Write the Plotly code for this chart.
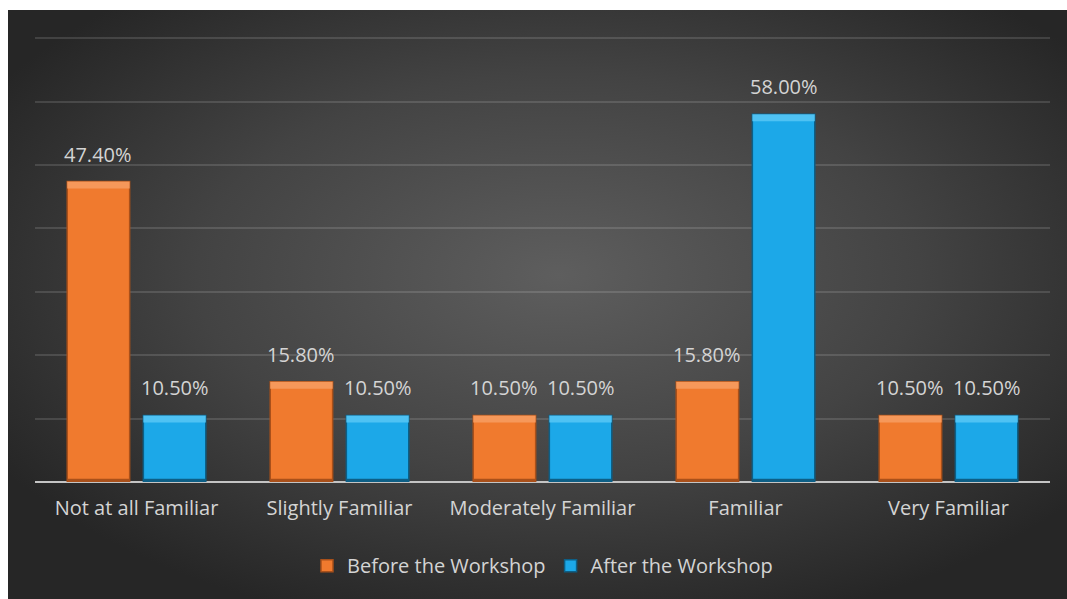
import base64
import plotly.graph_objects as go

# Survey results: share of respondents per familiarity level
categories = ["Not at all Familiar", "Slightly Familiar", "Moderately Familiar",
              "Familiar", "Very Familiar"]
before_pct = [47.4, 15.8, 10.5, 15.8, 10.5]
after_pct = [10.5, 10.5, 10.5, 58.0, 10.5]
series_names = ["Before the Workshop", "After the Workshop"]

Y_TOP = 70.2   # a little headroom so the 70% gridline is drawn
GRID_STEP = 10

# bar styling: base colour, light bevel, dark edge
styles = {
    "Before the Workshop": dict(base="#F07A2E", light="#F6985A", dark="#A9501A"),
    "After the Workshop": dict(base="#1CA8E8", light="#4FC2F3", dark="#0D5F86"),
}
BEVEL_TOP = 1.1     # height of the highlight strip, in axis units
BEVEL_BOTTOM = 0.5  # height of the shaded foot strip

BARGAP = 0.25
GROUPGAP = 0.18

TEXT = "#D4D4D4"
FONT = "Open Sans"

fig = go.Figure()

for name, vals in zip(series_names, [before_pct, after_pct]):
    st = styles[name]
    fig.add_trace(go.Bar(
        x=categories, y=vals, name=name, offsetgroup=name,
        marker=dict(color=st["base"], line=dict(color=st["dark"], width=1.5)),
        hoverinfo="skip",
    ))
    fig.add_trace(go.Bar(
        x=categories, y=[BEVEL_TOP] * len(vals),
        base=[v - BEVEL_TOP for v in vals], offsetgroup=name,
        marker=dict(color=st["light"], line=dict(width=0)),
        showlegend=False, hoverinfo="skip",
    ))
    fig.add_trace(go.Bar(
        x=categories, y=[BEVEL_BOTTOM] * len(vals), base=[0] * len(vals),
        offsetgroup=name,
        marker=dict(color=st["dark"], line=dict(width=0)),
        showlegend=False, hoverinfo="skip",
    ))

# value labels above each bar
slot = (1 - BARGAP) / len(series_names)
for s, vals in enumerate([before_pct, after_pct]):
    shift = (s - (len(series_names) - 1) / 2) * slot
    for i, v in enumerate(vals):
        fig.add_annotation(
            x=i + shift, y=v, xref="x", yref="y",
            text=f"{v:.2f}%", showarrow=False,
            yanchor="bottom", yshift=12,
            font=dict(family=FONT, size=20, color=TEXT),
        )

# dark radial-gradient backdrop
svg = (
    '<svg xmlns="http://www.w3.org/2000/svg" width="1059" height="589" '
    'preserveAspectRatio="none">'
    '<defs><radialGradient id="g" cx="52%" cy="45%" r="62%">'
    '<stop offset="0%" stop-color="#5E5E5E"/>'
    '<stop offset="55%" stop-color="#434343"/>'
    '<stop offset="100%" stop-color="#262626"/>'
    '</radialGradient></defs>'
    '<rect width="1059" height="589" fill="url(#g)"/></svg>'
)
bg_src = "data:image/svg+xml;base64," + base64.b64encode(svg.encode()).decode()

W, H = 1067, 599
ML, MR, MT, MB = 35, 17, 37, 117
pw, ph = W - ML - MR, H - MT - MB
bx0, by0 = 8, 10  # backdrop top-left, px
fig.add_layout_image(
    source=bg_src, xref="paper", yref="paper",
    x=(bx0 - ML) / pw, y=1 + (MT - by0) / ph,
    sizex=(W - bx0) / pw, sizey=(H - by0) / ph,
    xanchor="left", yanchor="top", sizing="stretch", layer="below",
)

fig.update_layout(
    width=W, height=H,
    margin=dict(l=ML, r=MR, t=MT, b=MB),
    paper_bgcolor="white", plot_bgcolor="rgba(0,0,0,0)",
    barmode="group", bargap=BARGAP, bargroupgap=GROUPGAP,
    font=dict(family=FONT, size=20, color=TEXT),
    showlegend=True,
    legend=dict(
        orientation="h", x=0.5, xanchor="center", y=-0.188, yanchor="middle",
        font=dict(family=FONT, size=20, color=TEXT),
        bgcolor="rgba(0,0,0,0)", traceorder="normal",
    ),
    xaxis=dict(
        showgrid=False, showline=False, ticks="",
        tickfont=dict(family=FONT, size=20, color=TEXT),
        ticklabelstandoff=12,
    ),
    yaxis=dict(
        range=[0, Y_TOP], dtick=GRID_STEP, showticklabels=False,
        showgrid=True, gridcolor="rgba(255,255,255,0.13)", gridwidth=1.5,
        zeroline=True, zerolinecolor="#C4C4C4", zerolinewidth=2,
        showline=False, ticks="",
    ),
)

fig.write_html("out.html")
